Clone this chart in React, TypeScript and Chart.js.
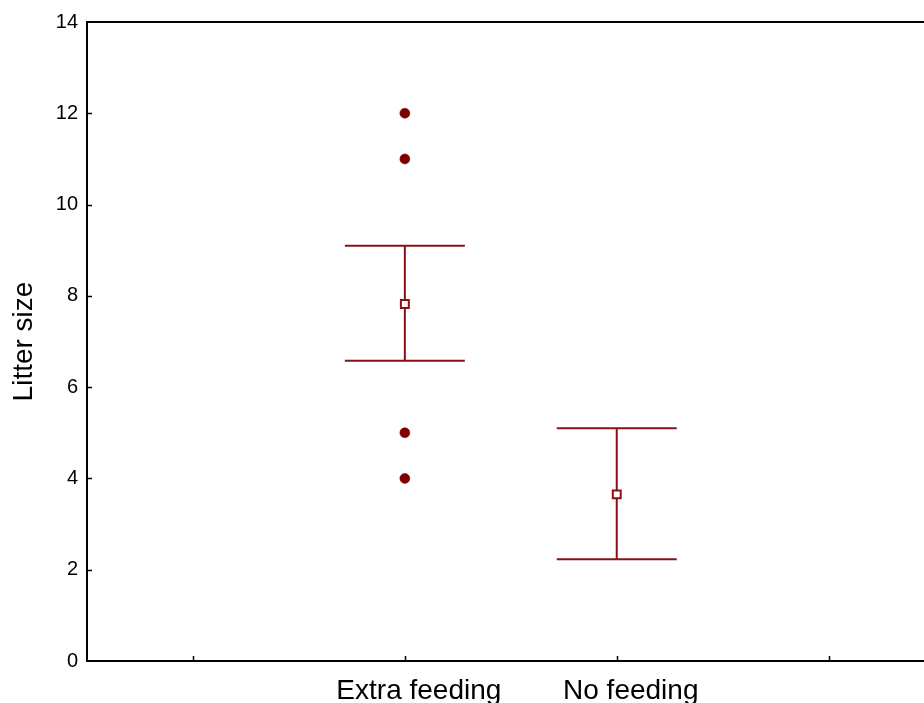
import { useEffect, useRef } from "react";
import { Chart, registerables } from "chart.js";

Chart.register(...registerables);

// Groups on the x axis (placed at x = 1, 2)
const groups = ["Extra feeding", "No feeding"];
// Group means and the upper / lower ends of their intervals
const means = [7.82, 3.65];
const upper = [9.1, 5.1];
const lower = [6.58, 2.23];
// Outlying observations in the "Extra feeding" group
const outlierGroup = [1, 1, 1, 1];
const outlierValues = [12, 11, 5, 4];
// Tick positions
const xTickValues = [0, 1, 2, 3];
const yTicks = [0, 2, 4, 6, 8, 10, 12, 14];

const RED = "#8a1212";
const DOT = "#7d0000";

const frame = {
  id: "frame",
  beforeDatasetsDraw(chart: any) {
    const { ctx, chartArea, scales } = chart;
    const x = scales.x;
    const y = scales.y;
    ctx.save();
    // top border
    ctx.strokeStyle = "#000";
    ctx.lineWidth = 2;
    ctx.beginPath();
    ctx.moveTo(chartArea.left, chartArea.top);
    ctx.lineTo(chartArea.right, chartArea.top);
    ctx.stroke();
    // inward tick marks
    ctx.lineWidth = 1.5;
    ctx.beginPath();
    xTickValues.forEach((v) => {
      const px = Math.round(x.getPixelForValue(v)) + 0.5;
      ctx.moveTo(px, chartArea.bottom);
      ctx.lineTo(px, chartArea.bottom - 5);
    });
    yTicks.forEach((v) => {
      if (v === 0 || v === 14) return;
      const py = Math.round(y.getPixelForValue(v)) + 0.5;
      ctx.moveTo(chartArea.left, py);
      ctx.lineTo(chartArea.left + 5, py);
    });
    ctx.stroke();
    // interval bars
    ctx.strokeStyle = RED;
    ctx.lineWidth = 2;
    const cap = 60;
    means.forEach((_, i) => {
      const cx = x.getPixelForValue(i + 1);
      const yt = y.getPixelForValue(upper[i]);
      const yb = y.getPixelForValue(lower[i]);
      ctx.beginPath();
      ctx.moveTo(cx, yt);
      ctx.lineTo(cx, yb);
      ctx.moveTo(cx - cap, yt);
      ctx.lineTo(cx + cap, yt);
      ctx.moveTo(cx - cap, yb);
      ctx.lineTo(cx + cap, yb);
      ctx.stroke();
    });
    ctx.restore();
  },
};

export default function App() {
  const ref = useRef<HTMLCanvasElement>(null);

  useEffect(() => {
    if (!ref.current) return;
    Chart.defaults.font.family = "'Liberation Sans', Arial, sans-serif";
    const chart = new Chart(ref.current, {
      type: "scatter",
      data: {
        datasets: [
          {
            label: "Outliers",
            data: outlierGroup.map((g, i) => ({ x: g, y: outlierValues[i] })),
            pointStyle: "circle",
            pointRadius: 5,
            pointBorderWidth: 0.5,
            pointBackgroundColor: DOT,
            pointBorderColor: DOT,
          },
          {
            label: "Mean",
            data: means.map((m, i) => ({ x: i + 1, y: m })),
            pointStyle: "rect",
            pointRadius: 5.6,
            pointBorderWidth: 2,
            pointBackgroundColor: "#ffffff",
            pointBorderColor: RED,
          },
        ],
      },
      options: {
        animation: false,
        responsive: true,
        maintainAspectRatio: false,
        layout: { autoPadding: false, padding: { top: 22, right: 0, left: 0, bottom: 0 } },
        plugins: {
          legend: { display: false },
          tooltip: { enabled: false },
        },
        scales: {
          x: {
            type: "linear",
            min: -0.5,
            max: 3.45,
            grid: { display: false, drawTicks: false },
            border: { display: true, color: "#000", width: 2 },
            afterBuildTicks: (scale: any) => {
              scale.ticks = xTickValues.map((v) => ({ value: v }));
            },
            afterFit: (scale: any) => {
              scale.height = 42;
              scale.paddingLeft = 0;
              scale.paddingRight = 0;
            },
            ticks: {
              autoSkip: false,
              maxRotation: 0,
              padding: 13,
              labelOffset: 14,
              color: "#000",
              font: { size: 28 },
              callback: (v: any) => groups[Number(v) - 1] ?? "",
            },
          },
          y: {
            type: "linear",
            min: 0,
            max: 14,
            grid: { display: false, drawTicks: false },
            border: { display: true, color: "#000", width: 2 },
            afterBuildTicks: (scale: any) => {
              scale.ticks = yTicks.map((v) => ({ value: v }));
            },
            afterFit: (scale: any) => {
              scale.width = 87;
            },
            ticks: {
              padding: 9,
              color: "#000",
              font: { size: 20 },
            },
            title: {
              display: true,
              text: "Litter size",
              color: "#000",
              font: { size: 28 },
              padding: { top: 7, bottom: 0 },
            },
          },
        },
      },
      plugins: [frame],
    });
    return () => chart.destroy();
  }, []);

  return (
    <div style={{ position: "fixed", left: 0, top: 0, width: 924, height: 703, background: "#fff" }}>
      <canvas ref={ref} />
    </div>
  );
}
